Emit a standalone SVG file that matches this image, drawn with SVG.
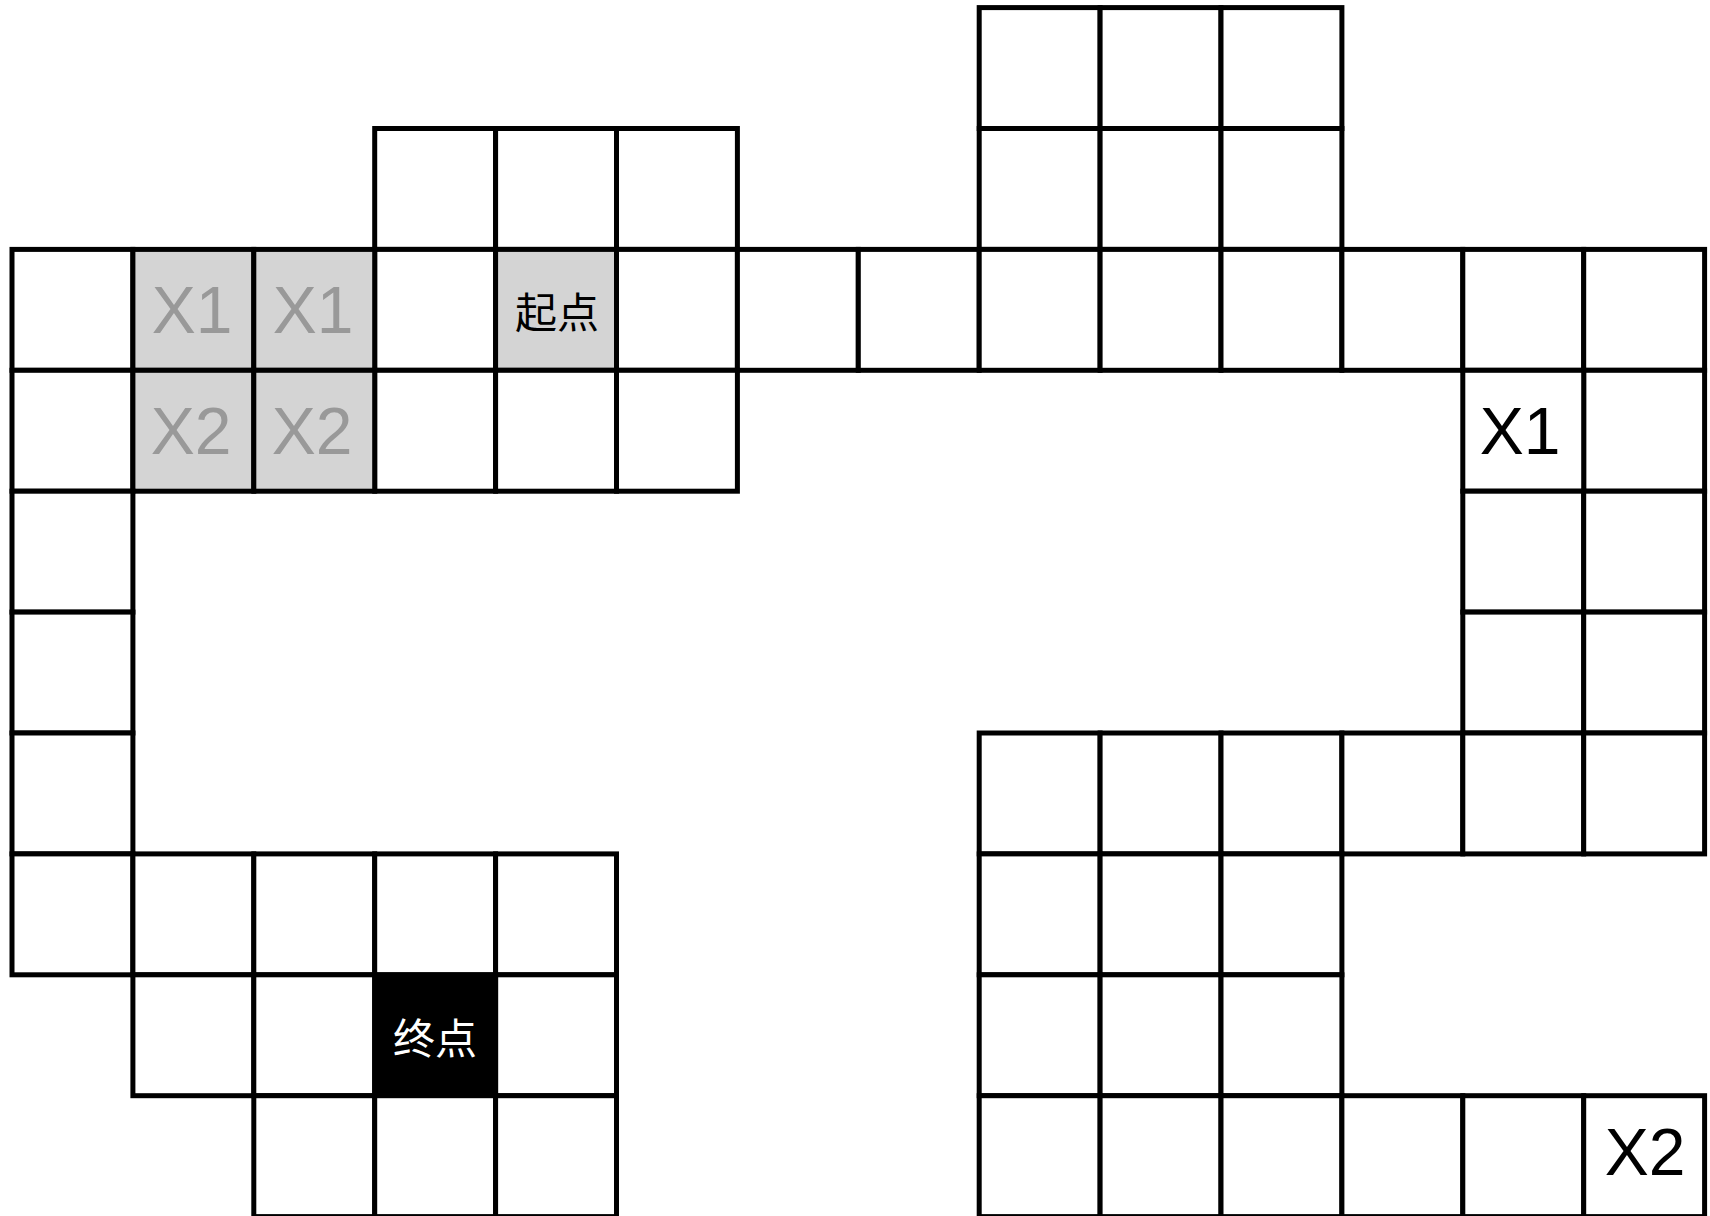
<svg xmlns="http://www.w3.org/2000/svg" width="1710" height="1216" viewBox="0 0 1710 1216">
<style>
.c{fill:#ffffff;stroke:#000;stroke-width:5}
.g{fill:#d4d4d4;stroke:#000;stroke-width:5}
.k{fill:#000;stroke:#000;stroke-width:5}
.t{font-family:"Liberation Sans",Arial,sans-serif;font-size:66px;text-anchor:middle;dominant-baseline:central}
.tg{fill:#999999}
.tb{fill:#000}
.cj{font-family:"Noto Sans CJK SC","Noto Sans",sans-serif;font-size:42px;text-anchor:middle;dominant-baseline:central}
</style>
<rect width="1710" height="1216" fill="#ffffff"/>
<g id="row0">
<rect class="c" x="979.2" y="7.6" width="120.9" height="120.9"/>
<rect class="c" x="1100.1" y="7.6" width="120.9" height="120.9"/>
<rect class="c" x="1221" y="7.6" width="120.9" height="120.9"/>
</g>
<g id="row1">
<rect class="c" x="374.7" y="128.5" width="120.9" height="120.9"/>
<rect class="c" x="495.6" y="128.5" width="120.9" height="120.9"/>
<rect class="c" x="616.5" y="128.5" width="120.9" height="120.9"/>
<rect class="c" x="979.2" y="128.5" width="120.9" height="120.9"/>
<rect class="c" x="1100.1" y="128.5" width="120.9" height="120.9"/>
<rect class="c" x="1221" y="128.5" width="120.9" height="120.9"/>
</g>
<g id="row2">
<rect class="c" x="12" y="249.4" width="120.9" height="120.9"/>
<rect class="c" x="374.7" y="249.4" width="120.9" height="120.9"/>
<rect class="c" x="616.5" y="249.4" width="120.9" height="120.9"/>
<rect class="c" x="737.4" y="249.4" width="120.9" height="120.9"/>
<rect class="c" x="858.3" y="249.4" width="120.9" height="120.9"/>
<rect class="c" x="979.2" y="249.4" width="120.9" height="120.9"/>
<rect class="c" x="1100.1" y="249.4" width="120.9" height="120.9"/>
<rect class="c" x="1221" y="249.4" width="120.9" height="120.9"/>
<rect class="c" x="1341.9" y="249.4" width="120.9" height="120.9"/>
<rect class="c" x="1462.8" y="249.4" width="120.9" height="120.9"/>
<rect class="c" x="1583.7" y="249.4" width="120.9" height="120.9"/>
</g>
<g id="x1a"><rect class="g" x="132.9" y="249.4" width="120.9" height="120.9"/><text class="t tg" x="192" y="309.9">X1</text></g>
<g id="x1b"><rect class="g" x="253.8" y="249.4" width="120.9" height="120.9"/><text class="t tg" x="313" y="309.9">X1</text></g>
<g id="start"><rect class="g" x="495.6" y="249.4" width="120.9" height="120.9"/><text class="cj" x="557" y="309.9" fill="#000">起点</text></g>
<g id="row3">
<rect class="c" x="12" y="370.3" width="120.9" height="120.9"/>
<rect class="c" x="374.7" y="370.3" width="120.9" height="120.9"/>
<rect class="c" x="495.6" y="370.3" width="120.9" height="120.9"/>
<rect class="c" x="616.5" y="370.3" width="120.9" height="120.9"/>
<rect class="c" x="1583.7" y="370.3" width="120.9" height="120.9"/>
</g>
<g id="x2a"><rect class="g" x="132.9" y="370.3" width="120.9" height="120.9"/><text class="t tg" x="191" y="430.8">X2</text></g>
<g id="x2b"><rect class="g" x="253.8" y="370.3" width="120.9" height="120.9"/><text class="t tg" x="312" y="430.8">X2</text></g>
<g id="x1c"><rect class="c" x="1462.8" y="370.3" width="120.9" height="120.9"/><text class="t tb" x="1520" y="430.8">X1</text></g>
<g id="row4">
<rect class="c" x="12" y="491.2" width="120.9" height="120.9"/>
<rect class="c" x="1462.8" y="491.2" width="120.9" height="120.9"/>
<rect class="c" x="1583.7" y="491.2" width="120.9" height="120.9"/>
</g>
<g id="row5">
<rect class="c" x="12" y="612.1" width="120.9" height="120.9"/>
<rect class="c" x="1462.8" y="612.1" width="120.9" height="120.9"/>
<rect class="c" x="1583.7" y="612.1" width="120.9" height="120.9"/>
</g>
<g id="row6">
<rect class="c" x="12" y="733" width="120.9" height="120.9"/>
<rect class="c" x="979.2" y="733" width="120.9" height="120.9"/>
<rect class="c" x="1100.1" y="733" width="120.9" height="120.9"/>
<rect class="c" x="1221" y="733" width="120.9" height="120.9"/>
<rect class="c" x="1341.9" y="733" width="120.9" height="120.9"/>
<rect class="c" x="1462.8" y="733" width="120.9" height="120.9"/>
<rect class="c" x="1583.7" y="733" width="120.9" height="120.9"/>
</g>
<g id="row7">
<rect class="c" x="12" y="853.9" width="120.9" height="120.9"/>
<rect class="c" x="132.9" y="853.9" width="120.9" height="120.9"/>
<rect class="c" x="253.8" y="853.9" width="120.9" height="120.9"/>
<rect class="c" x="374.7" y="853.9" width="120.9" height="120.9"/>
<rect class="c" x="495.6" y="853.9" width="120.9" height="120.9"/>
<rect class="c" x="979.2" y="853.9" width="120.9" height="120.9"/>
<rect class="c" x="1100.1" y="853.9" width="120.9" height="120.9"/>
<rect class="c" x="1221" y="853.9" width="120.9" height="120.9"/>
</g>
<g id="row8">
<rect class="c" x="132.9" y="974.8" width="120.9" height="120.9"/>
<rect class="c" x="253.8" y="974.8" width="120.9" height="120.9"/>
<rect class="c" x="495.6" y="974.8" width="120.9" height="120.9"/>
<rect class="c" x="979.2" y="974.8" width="120.9" height="120.9"/>
<rect class="c" x="1100.1" y="974.8" width="120.9" height="120.9"/>
<rect class="c" x="1221" y="974.8" width="120.9" height="120.9"/>
</g>
<g id="end"><rect class="k" x="374.7" y="974.8" width="120.9" height="120.9"/><text class="cj" x="435.1" y="1035.3" fill="#ffffff">终点</text></g>
<g id="row9">
<rect class="c" x="253.8" y="1095.7" width="120.9" height="120.9"/>
<rect class="c" x="374.7" y="1095.7" width="120.9" height="120.9"/>
<rect class="c" x="495.6" y="1095.7" width="120.9" height="120.9"/>
<rect class="c" x="979.2" y="1095.7" width="120.9" height="120.9"/>
<rect class="c" x="1100.1" y="1095.7" width="120.9" height="120.9"/>
<rect class="c" x="1221" y="1095.7" width="120.9" height="120.9"/>
<rect class="c" x="1341.9" y="1095.7" width="120.9" height="120.9"/>
<rect class="c" x="1462.8" y="1095.7" width="120.9" height="120.9"/>
</g>
<g id="x2c"><rect class="c" x="1583.7" y="1095.7" width="120.9" height="120.9"/><text class="t tb" x="1645" y="1152">X2</text></g>
<g id="connectors"></g>
</svg>
